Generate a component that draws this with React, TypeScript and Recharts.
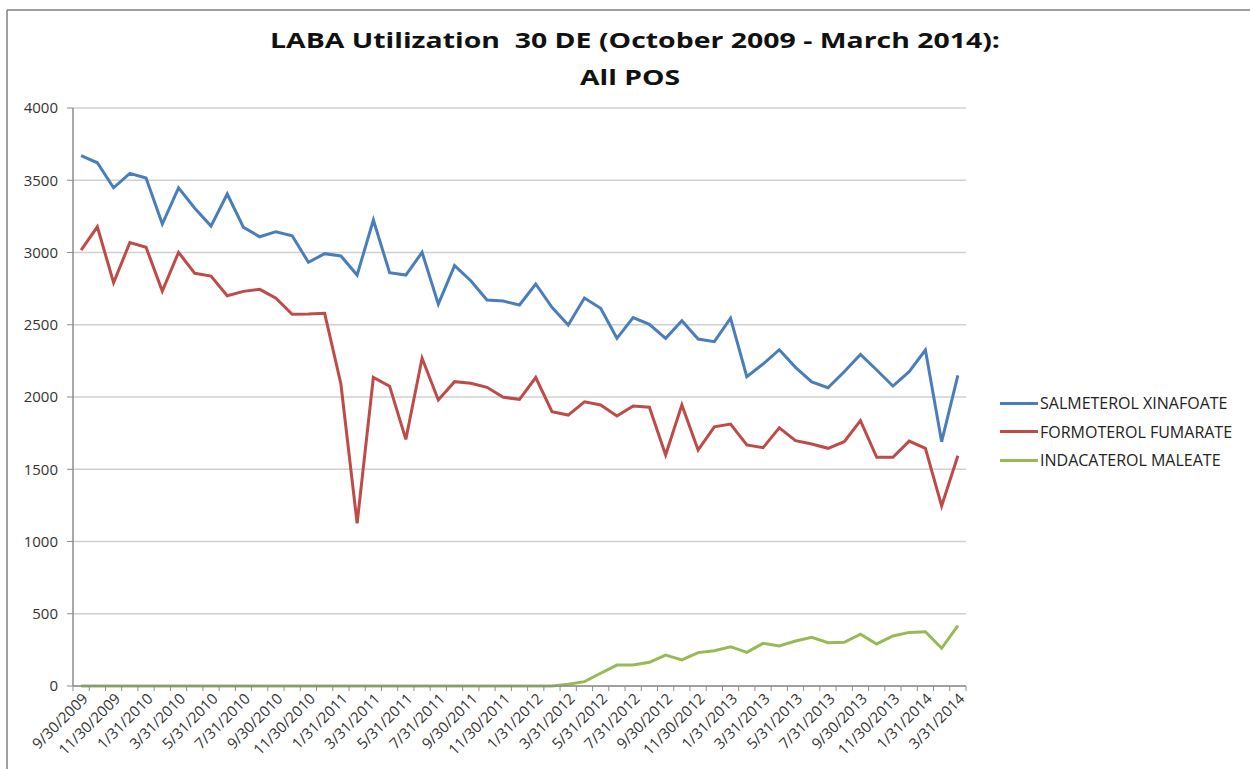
import React from "react";
import { LineChart, Line, XAxis, YAxis, CartesianGrid, Legend } from "recharts";

const months = [
  "9/30/2009", "10/31/2009", "11/30/2009", "12/31/2009",
  "1/31/2010", "2/28/2010", "3/31/2010", "4/30/2010", "5/31/2010", "6/30/2010",
  "7/31/2010", "8/31/2010", "9/30/2010", "10/31/2010", "11/30/2010", "12/31/2010",
  "1/31/2011", "2/28/2011", "3/31/2011", "4/30/2011", "5/31/2011", "6/30/2011",
  "7/31/2011", "8/31/2011", "9/30/2011", "10/31/2011", "11/30/2011", "12/31/2011",
  "1/31/2012", "2/29/2012", "3/31/2012", "4/30/2012", "5/31/2012", "6/30/2012",
  "7/31/2012", "8/31/2012", "9/30/2012", "10/31/2012", "11/30/2012", "12/31/2012",
  "1/31/2013", "2/28/2013", "3/31/2013", "4/30/2013", "5/31/2013", "6/30/2013",
  "7/31/2013", "8/31/2013", "9/30/2013", "10/31/2013", "11/30/2013", "12/31/2013",
  "1/31/2014", "2/28/2014", "3/31/2014",
];

const salmeterol = [
  3670, 3621, 3448, 3548, 3515, 3197, 3448, 3306, 3183, 3405,
  3174, 3109, 3144, 3116, 2932, 2992, 2976, 2844, 3225, 2860,
  2844, 3001, 2643, 2909, 2805, 2671, 2664, 2637, 2782, 2621,
  2498, 2685, 2614, 2406, 2549, 2503, 2406, 2528, 2401, 2383,
  2545, 2141, 2228, 2327, 2205, 2104, 2064, 2175, 2295, 2187,
  2076, 2175, 2325, 1691, 2150,
];

const formoterol = [
  3017, 3178, 2791, 3068, 3036, 2733, 3001, 2856, 2837, 2701,
  2731, 2745, 2683, 2572, 2574, 2579, 2090, 1126, 2136, 2075,
  1707, 2268, 1979, 2106, 2095, 2067, 1998, 1984, 2135, 1899,
  1875, 1967, 1945, 1868, 1938, 1929, 1599, 1945, 1633, 1794,
  1813, 1668, 1649, 1787, 1698, 1675, 1645, 1691, 1836, 1583,
  1583, 1695, 1645, 1246, 1594,
];

const indacaterol = [
  0, 0, 0, 0, 0, 0, 0, 0, 0, 0,
  0, 0, 0, 0, 0, 0, 0, 0, 0, 0,
  0, 0, 0, 0, 0, 0, 0, 0, 0, 0,
  12, 30, 88, 145, 145, 164, 214, 180, 231, 244,
  272, 233, 295, 277, 311, 337, 300, 302, 358, 291,
  346, 371, 376, 261, 417,
];

const yTicks = [0, 500, 1000, 1500, 2000, 2500, 3000, 3500, 4000];

const seriesNames = ["SALMETEROL XINAFOATE", "FORMOTEROL FUMARATE", "INDACATEROL MALEATE"];
const seriesKeys = ["salmeterol", "formoterol", "indacaterol"];
const colors = ["#4a7ebb", "#be4b48", "#98b954"];

const data = months.map((m, i) => ({
  month: m,
  salmeterol: salmeterol[i],
  formoterol: formoterol[i],
  indacaterol: indacaterol[i],
}));

const W = 1250;
const H = 769;
const PLOT_LEFT = 73;
const PLOT_RIGHT = 966;
const PLOT_TOP = 108;
const PLOT_BOTTOM = 686;
const Y_AXIS_W = 60;
const X_AXIS_H = 60;
const step = (PLOT_RIGHT - PLOT_LEFT) / months.length;

const font = "'Open Sans', 'Liberation Sans', sans-serif";
const axisGray = "#8c8c8c";

function MonthTick(props: any) {
  const { x, y, payload } = props;
  const i = payload.index;
  const half = step / 2;
  return (
    <g>
      <line x1={x - half} x2={x - half} y1={y} y2={y + 5} stroke={axisGray} />
      {i === months.length - 1 && (
        <line x1={x + half} x2={x + half} y1={y} y2={y + 5} stroke={axisGray} />
      )}
      {i % 2 === 0 && (
        <text
          x={x + 4}
          y={y + 10}
          dy="0.35em"
          transform={`rotate(-45 ${x + 4} ${y + 10})`}
          textAnchor="end"
          fontSize={15}
          fontFamily={font}
          fill="#333"
        >
          {payload.value}
        </text>
      )}
    </g>
  );
}

function LegendBox() {
  return (
    <div style={{ fontFamily: font, fontSize: 16, color: "#222" }}>
      {seriesNames.map((n, i) => (
        <div key={n} style={{ display: "flex", alignItems: "center", height: 28.5, whiteSpace: "nowrap" }}>
          <span style={{ width: 38, height: 3, background: colors[i], marginRight: 2 }} />
          <span>{n}</span>
        </div>
      ))}
    </div>
  );
}

export default function App() {
  return (
    <div style={{ position: "absolute", left: 0, top: 0, width: W, height: H, background: "#fff", overflow: "hidden" }}>
      <svg width={W} height={H} style={{ position: "absolute", left: 0, top: 0 }}>
        <line x1={7} x2={W} y1={10} y2={10} stroke="#7f7f7f" strokeWidth={1.5} />
        <line x1={7} x2={7} y1={10} y2={H} stroke="#7f7f7f" strokeWidth={1.5} />
        <text
          x={635}
          y={48}
          textAnchor="middle"
          fontFamily={font}
          fontWeight={700}
          fontSize={22}
          fill="#111"
          textLength={730}
          lengthAdjust="spacingAndGlyphs"
        >
          LABA Utilization{"\u00a0\u00a0"}30 DE (October 2009 - March 2014):
        </text>
        <text
          x={630}
          y={85}
          textAnchor="middle"
          fontFamily={font}
          fontWeight={700}
          fontSize={22}
          fill="#111"
          textLength={100}
          lengthAdjust="spacingAndGlyphs"
        >
          All POS
        </text>
      </svg>
      <div style={{ position: "absolute", left: 0, top: 0 }}>
        <LineChart
          width={W}
          height={H}
          data={data}
          margin={{
            top: PLOT_TOP,
            right: W - PLOT_RIGHT,
            left: PLOT_LEFT - Y_AXIS_W,
            bottom: H - PLOT_BOTTOM - X_AXIS_H,
          }}
        >
          <CartesianGrid vertical={false} stroke="#d0d0d0" strokeWidth={1.5} />
          <XAxis
            dataKey="month"
            interval={0}
            height={X_AXIS_H}
            padding={{ left: step / 2, right: step / 2 }}
            tickLine={false}
            tickSize={0}
            tickMargin={0}
            axisLine={{ stroke: axisGray, strokeWidth: 1.5 }}
            tick={<MonthTick />}
          />
          <YAxis
            width={Y_AXIS_W}
            domain={[0, 4000]}
            ticks={yTicks}
            tickSize={6}
            tickMargin={9}
            axisLine={{ stroke: axisGray, strokeWidth: 1.5 }}
            tickLine={{ stroke: axisGray }}
            tick={{ fontSize: 15, fontFamily: font, fill: "#333" }}
          />
          <Legend
            layout="horizontal"
            verticalAlign="middle"
            align="center"
            wrapperStyle={{ left: 1000, top: 389, width: 250 }}
            content={() => <LegendBox />}
          />
          {seriesKeys.map((k, i) => (
            <Line
              key={k}
              dataKey={k}
              name={seriesNames[i]}
              stroke={colors[i]}
              strokeWidth={3}
              dot={false}
              isAnimationActive={false}
            />
          ))}
        </LineChart>
      </div>
    </div>
  );
}
